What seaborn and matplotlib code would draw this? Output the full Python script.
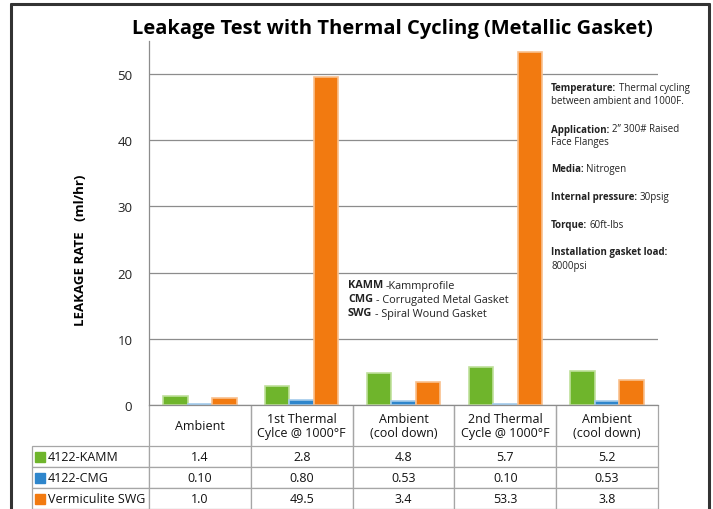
import numpy as np
import pandas as pd
import matplotlib.pyplot as plt
import seaborn as sns
from matplotlib.patches import Rectangle
from matplotlib.lines import Line2D

# data
conditions = ["Ambient", "1st Thermal\nCylce @ 1000°F", "Ambient\n(cool down)",
              "2nd Thermal\nCycle @ 1000°F", "Ambient\n(cool down)"]
series = ["4122-KAMM", "4122-CMG", "Vermiculite SWG"]
kamm = [1.4, 2.8, 4.8, 5.7, 5.2]
cmg = [0.10, 0.80, 0.53, 0.10, 0.53]
swg = [1.0, 49.5, 3.4, 53.3, 3.8]
decimals = [1, 2, 1]
colors = ["#6fb52c", "#2e86cc", "#f27a10"]
edges = ["#bfe09b", "#a3cbeb", "#f9c08e"]

notes_left = [("KAMM", "-Kammprofile"),
              ("CMG", "- Corrugated Metal Gasket"),
              ("SWG", "- Spiral Wound Gasket")]
notes_right = [("Temperature:", "Thermal cycling"),
               ("", "between ambient and 1000F."),
               ("Application:", "2\u201d 300# Raised"),
               ("", "Face Flanges"),
               ("Media:", "Nitrogen"),
               ("Internal pressure:", "30psig"),
               ("Torque:", "60ft-lbs"),
               ("Installation gasket load:", ""),
               ("", "8000psi")]

sns.set_style("white")
plt.rcParams['font.family'] = ['Open Sans', 'DejaVu Sans']

W, H = 713, 510
fig = plt.figure(figsize=(W / 100, H / 100), dpi=100)

# axes placed in pixel terms
ax_l, ax_r, ax_t, ax_b = 149, 658, 42, 406
ax = fig.add_axes([ax_l / W, 1 - ax_b / H, (ax_r - ax_l) / W, (ax_b - ax_t) / H])


def px_to_ax(x, y):
    return (x - ax_l) / (ax_r - ax_l), (ax_b - y) / (ax_b - ax_t)


values = [kamm, cmg, swg]
df = pd.DataFrame({
    "pos": np.tile(np.arange(len(conditions)), len(series)),
    "series": np.repeat(series, len(conditions)),
    "rate": np.concatenate(values),
})

sns.barplot(data=df, x="pos", y="rate", hue="series", hue_order=series,
            palette=colors, saturation=1, width=0.72, gap=0, legend=False, ax=ax,
            edgecolor="none", zorder=2)
for cont, e in zip(ax.containers, edges):
    for patch in cont:
        patch.set_edgecolor(e)
        patch.set_linewidth(1.2)

ax.set_xlim(-0.5, len(conditions) - 0.5)
ax.set_ylim(0, 55)
ax.set_yticks(range(0, 51, 10))
ax.set_xticks([])
ax.set_xlabel("")
ax.set_ylabel("")
ax.tick_params(axis="y", length=0, pad=12, labelsize=9.5, labelcolor="#222222")
ax.yaxis.grid(True, color="#8c8c8c", linewidth=0.9)
ax.set_axisbelow(True)
for s in ["top", "right"]:
    ax.spines[s].set_visible(False)
for s in ["left", "bottom"]:
    ax.spines[s].set_color("#8c8c8c")
    ax.spines[s].set_linewidth(0.9)

# white note box on the right covering the grid
bx0, by0 = px_to_ax(541, 330)
bx1, by1 = px_to_ax(662, 78)
ax.add_patch(Rectangle((bx0, by0), bx1 - bx0, by1 - by0, transform=ax.transAxes,
                       facecolor="white", edgecolor="none", zorder=1, clip_on=False))

# data table under the axes
cell_text = [[""] + conditions]
for name, vals, d in zip(series, values, decimals):
    cell_text.append([name] + [f"{v:.{d}f}" for v in vals])

tx0, ty0 = px_to_ax(32, 510)
tx1, ty1 = px_to_ax(ax_r, ax_b)
table = ax.table(cellText=cell_text, cellLoc="center",
                 bbox=[tx0, ty0, tx1 - tx0, ty1 - ty0])
table.auto_set_font_size(False)
table.set_fontsize(9)
col_w = [117] + [(ax_r - ax_l) / len(conditions)] * len(conditions)
row_h = [41, 21, 21, 21]
for (r, c), cell in table.get_celld().items():
    cell.set_width(col_w[c])
    cell.set_height(row_h[r])
    cell.set_edgecolor("#a6a6a6")
    cell.set_linewidth(0.9)
    cell.get_text().set_color("#111111")
    cell.get_text().set_linespacing(1.1)
    if r == 0:
        cell.visible_edges = "" if c == 0 else "LR"
    if c == 0 and r > 0:
        cell.set_text_props(ha="left")
        cell._loc = "left"
        cell.PAD = 16 / 117

# coloured squares in front of the row labels
for i, c in enumerate(colors):
    mx, my = px_to_ax(40, 457.5 + 21 * i)
    ax.plot(mx, my, marker="s", markersize=6.5, color=c, transform=ax.transAxes,
            clip_on=False, zorder=5)

# title and axis label
fig.text(392 / W, 1 - 29 / H, "Leakage Test with Thermal Cycling (Metallic Gasket)",
         ha="center", va="center", fontsize=14.5, fontweight="bold", color="black")
fig.text(80 / W, 1 - 250 / H, "LEAKAGE RATE   (ml/hr)", rotation=90,
         ha="center", va="center", fontsize=9.5, fontweight="bold", color="black")


def rich_line(x, y, bold, rest, size):
    t = fig.text(x / W, 1 - y / H, bold, fontsize=size, fontweight="bold",
                 ha="left", va="center", color="#222222")
    if rest:
        ax.annotate(rest, xy=(1, 0), xycoords=t, xytext=(2, 0),
                    textcoords="offset points", ha="left", va="bottom",
                    fontsize=size, color="#222222", annotation_clip=False)


for i, (b, r) in enumerate(notes_left):
    rich_line(348, 286 + 14 * i, b, r, 7.8)

right_y = [89, 102, 130, 143, 170, 198, 226, 253, 267]
for (b, r), y in zip(notes_right, right_y):
    if b:
        rich_line(551, y, b, r, 7)
    else:
        fig.text(551 / W, 1 - y / H, r, fontsize=7, ha="left", va="center",
                 color="#222222")

# outer frame of the slide (left, top, right edges)
fx0, fx1, fy = 11 / W, 709 / W, 1 - 5 / H
for xs, ys in [([fx0, fx0], [-0.01, fy]), ([fx0, fx1], [fy, fy]), ([fx1, fx1], [fy, -0.01])]:
    fig.add_artist(Line2D(xs, ys, transform=fig.transFigure, color="#333333",
                          linewidth=2.2))

fig.savefig("out.png", dpi=100)
